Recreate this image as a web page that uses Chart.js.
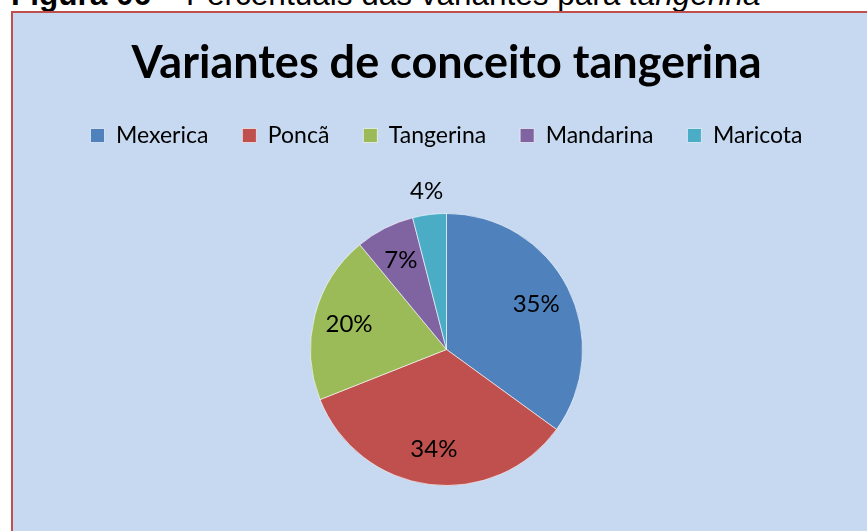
<!DOCTYPE html>
<html>
<head>
<meta charset="utf-8">
<script src="https://cdn.jsdelivr.net/npm/chart.js@4/dist/chart.umd.min.js"></script>
<style>
  html, body { margin: 0; padding: 0; width: 867px; height: 531px; overflow: hidden; background: #fff; }
  #caption {
    position: absolute; left: 11px; top: -24px; white-space: nowrap;
    font-family: "Liberation Sans", Arial, sans-serif; font-size: 31.5px; line-height: normal; color: #000;
  }
  #caption b { font-weight: bold; }
  #box {
    position: absolute; left: 11px; top: 11px; width: 880px; height: 560px;
    background: #c6d9f1; border: 2px solid #c0504d; box-sizing: border-box;
  }
  #wrap { position: absolute; left: 1px; top: 1px; width: 865px; height: 560px; }
</style>
</head>
<body>
<div id="caption"><b>Figura 06</b> – Percentuais das variantes para <i>tangerina</i></div>
<div id="box">
  <div id="wrap"><canvas id="chart1"></canvas></div>
</div>
<script>
const categorias = ['Mexerica', 'Poncã', 'Tangerina', 'Mandarina', 'Maricota'];
const percentuais = [35, 34, 20, 7, 4];
const cores = ['#4f81bd', '#c0504d', '#9bbb59', '#8064a2', '#4bacc6'];

// rótulos de porcentagem: dentro da fatia, ou fora quando a fatia é pequena
const rotulos = {
  id: 'rotulos',
  afterDatasetsDraw(chart) {
    const c = chart.ctx;
    const meta = chart.getDatasetMeta(0);
    c.save();
    c.font = '24px Lato, sans-serif';
    c.fillStyle = '#000';
    c.textAlign = 'center';
    c.textBaseline = 'middle';
    meta.data.forEach((arc, i) => {
      const p = arc.getProps(['x', 'y', 'startAngle', 'endAngle', 'outerRadius'], true);
      const ang = (p.startAngle + p.endAngle) / 2;
      const f = percentuais[i] < 5 ? 1.17 : 0.74;
      const x = p.x + Math.cos(ang) * p.outerRadius * f;
      const y = p.y + Math.sin(ang) * p.outerRadius * f;
      c.fillText(percentuais[i] + '%', x, y);
    });
    c.restore();
  }
};

const ctx = document.getElementById('chart1').getContext('2d');
let grafico = new Chart(ctx, {
    type: 'pie',
    data: {
        labels: categorias,
        datasets: [{
            data: percentuais,
            backgroundColor: cores,
            borderColor: 'rgba(255,255,255,0.6)',
            borderWidth: 1
        }]
    },
    options: {
        responsive: true,
        maintainAspectRatio: false,
        animation: false,
        radius: 136,
        layout: { padding: { top: 0, bottom: 32 } },
        plugins: {
            title: {
                display: true,
                text: 'Variantes de conceito tangerina',
                color: '#000',
                font: { family: 'Lato', size: 45, weight: 'bold' },
                padding: { top: 22, bottom: 0 }
            },
            legend: {
                position: 'top',
                labels: {
                    color: '#000',
                    font: { family: 'Lato', size: 23 },
                    boxWidth: 14,
                    boxHeight: 14,
                    padding: 34
                }
            },
            tooltip: { enabled: false }
        }
    },
    plugins: [rotulos]
});
</script>
</body>
</html>
